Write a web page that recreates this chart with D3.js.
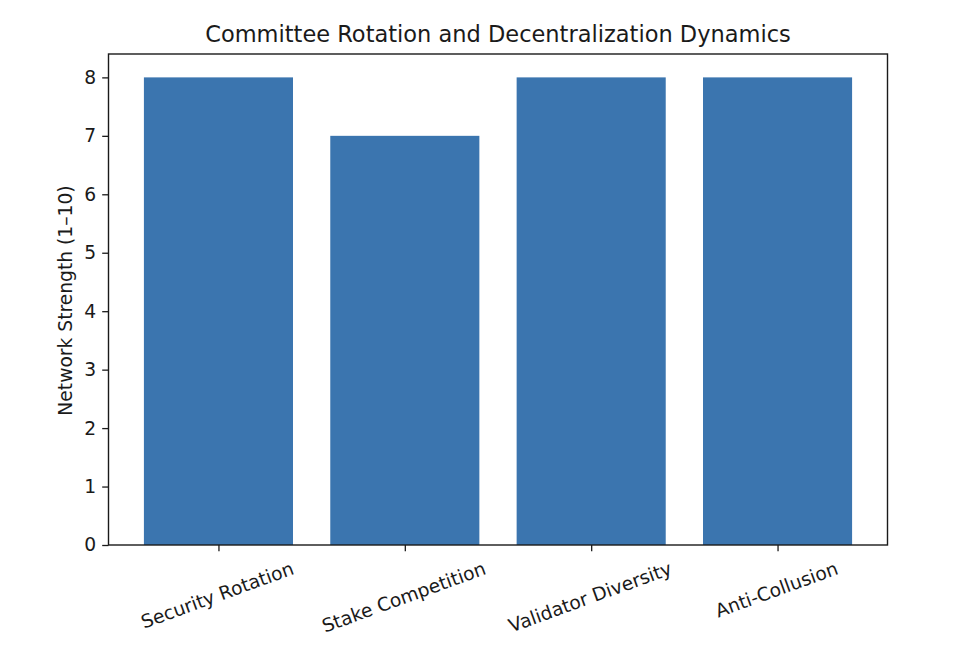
<!DOCTYPE html>
<html><head><meta charset="utf-8">
<script src="https://cdn.jsdelivr.net/npm/d3@7"></script>
<style>body{margin:0;background:#fff;} text{font-family:"DejaVu Sans",sans-serif;fill:#1a1a1a;}</style>
</head><body>
<svg id="c" width="960" height="662"></svg>
<script>
const categories = ["Security Rotation", "Stake Competition", "Validator Diversity", "Anti-Collusion"];
const values = [8, 7, 8, 8];
const yTicks = [0, 1, 2, 3, 4, 5, 6, 7, 8];
const title = "Committee Rotation and Decentralization Dynamics";
const yLabel = "Network Strength (1–10)";

const svg = d3.select("#c");
const L = 108.5, R = 887.5, T = 54, B = 545;
const x = d3.scaleLinear().domain([-0.59, categories.length - 1 + 0.59]).range([L, R]);
const y = d3.scaleLinear().domain([0, 8.4]).range([B, T]);
const bw = x(0.8) - x(0);
const fs = 18.7, tickLen = 6.3, tickPad = 6;

svg.selectAll("rect.bar").data(values).join("rect")
  .attr("class", "bar")
  .attr("x", (d, i) => x(i) - bw / 2)
  .attr("width", bw)
  .attr("y", d => y(d))
  .attr("height", d => y(0) - y(d))
  .attr("fill", "#3b75af");

// frame
svg.append("rect").attr("x", L).attr("y", T).attr("width", R - L).attr("height", B - T)
  .attr("fill", "none").attr("stroke", "#1a1a1a").attr("stroke-width", 1.4);

// y axis
const yAxis = d3.axisLeft(y).tickValues(yTicks).tickSize(tickLen).tickPadding(tickPad).tickFormat(d3.format("d"));
const gy = svg.append("g").attr("transform", `translate(${L},0)`).call(yAxis);
gy.select(".domain").remove();
gy.selectAll("line").attr("stroke", "#1a1a1a").attr("stroke-width", 1.3);
gy.selectAll("text").style("font-size", fs + "px").attr("fill", "#1a1a1a");

// x axis
const xAxis = d3.axisBottom(x).tickValues(d3.range(categories.length)).tickSize(tickLen).tickFormat("");
const gx = svg.append("g").attr("transform", `translate(0,${B})`).call(xAxis);
gx.select(".domain").remove();
gx.selectAll("line").attr("stroke", "#1a1a1a").attr("stroke-width", 1.3);

const ang = 20 * Math.PI / 180;
categories.forEach((c, i) => {
  const t = svg.append("text").text(c).style("font-size", fs + "px")
    .attr("text-anchor", "middle").attr("dominant-baseline", "central");
  const w = t.node().getComputedTextLength();
  const h = fs * 1.17;
  const bh = w * Math.sin(ang) + h * Math.cos(ang);
  const cx = x(i) - 1, cy = B + tickLen + tickPad + bh / 2;
  t.attr("transform", `translate(${cx},${cy}) rotate(-20)`);
});

// y label
svg.append("text").text(yLabel).style("font-size", fs + "px")
  .attr("text-anchor", "middle")
  .attr("transform", `translate(72,${(T + B) / 2 + 1}) rotate(-90)`);

// title
svg.append("text").text(title).style("font-size", "22.5px")
  .attr("text-anchor", "middle").attr("x", (L + R) / 2).attr("y", 41.5);
</script>
</body></html>
